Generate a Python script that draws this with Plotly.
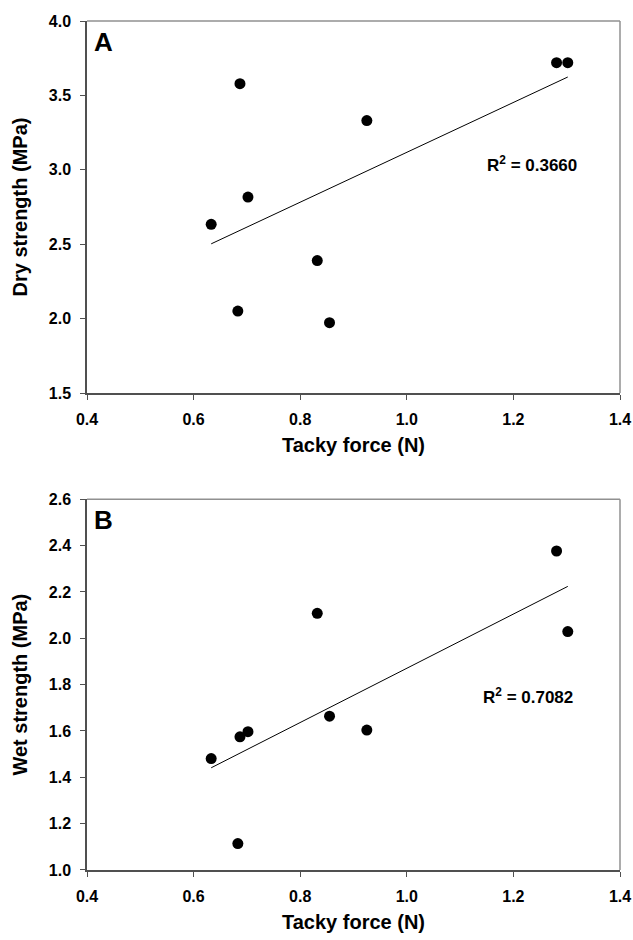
import numpy as np
import plotly.graph_objects as go
from plotly.subplots import make_subplots

# Data
tacky_force = [0.633, 0.683, 0.687, 0.702, 0.832, 0.855, 0.925, 1.281, 1.302]
dry_strength = [2.634, 2.051, 3.579, 2.817, 2.390, 1.973, 3.331, 3.720, 3.720]
wet_strength = [1.481, 1.114, 1.575, 1.597, 2.108, 1.664, 1.604, 2.377, 2.029]
r2_labels = ["R<sup>2</sup> = 0.3660", "R<sup>2</sup> = 0.7082"]
panel_labels = ["A", "B"]
x_ticks = [0.4, 0.6, 0.8, 1.0, 1.2, 1.4]
dry_ticks = [1.5, 2.0, 2.5, 3.0, 3.5, 4.0]
wet_ticks = [1.0, 1.2, 1.4, 1.6, 1.8, 2.0, 2.2, 2.4, 2.6]

FONT = "Liberation Sans, Arial, sans-serif"

fig = make_subplots(rows=2, cols=1, vertical_spacing=0.12)

x = np.array(tacky_force)
for row, yvals in [(1, dry_strength), (2, wet_strength)]:
    y = np.array(yvals)
    fig.add_trace(go.Scatter(x=x, y=y, mode="markers",
                             marker=dict(color="black", size=11),
                             showlegend=False), row=row, col=1)
    slope, icpt = np.polyfit(x, y, 1)
    xl = np.array([x.min(), x.max()])
    fig.add_trace(go.Scatter(x=xl, y=slope * xl + icpt, mode="lines",
                             line=dict(color="black", width=1),
                             showlegend=False), row=row, col=1)

axis_common = dict(showline=True, linecolor="#505050", linewidth=1.5,
                   ticks="outside", ticklen=5, tickcolor="#505050", tickwidth=1,
                   showgrid=False, zeroline=False, ticklabeloverflow="allow",
                   tickfont=dict(family=FONT, size=16, color="black", weight="bold"))

for row in (1, 2):
    fig.update_xaxes(range=[0.4, 1.4], tickvals=x_ticks,
                     ticktext=[f"{v:.1f}" for v in x_ticks],
                     ticklabelstandoff=6,
                     title=dict(text="Tacky force (N)", standoff=11,
                                font=dict(family=FONT, size=20, color="black", weight="bold")),
                     row=row, col=1, **axis_common)

fig.update_yaxes(range=[1.5, 4.0], tickvals=dry_ticks,
                 ticktext=[f"{v:.1f}" for v in dry_ticks],
                 ticklabelstandoff=6,
                 title=dict(text="Dry strength (MPa)", standoff=16,
                            font=dict(family=FONT, size=20, color="black", weight="bold")),
                 row=1, col=1, **axis_common)
fig.update_yaxes(range=[1.0, 2.6], tickvals=wet_ticks,
                 ticktext=[f"{v:.1f}" for v in wet_ticks],
                 ticklabelstandoff=6,
                 title=dict(text="Wet strength (MPa)", standoff=16,
                            font=dict(family=FONT, size=20, color="black", weight="bold")),
                 row=2, col=1, **axis_common)

fig.update_layout(
    xaxis=dict(domain=[0, 1]), xaxis2=dict(domain=[0, 1]),
    yaxis=dict(domain=[0.5618, 1.0]),
    yaxis2=dict(domain=[0.0, 0.4366]),
)

# Frame lines (top and right) in lighter gray
for xr, yr in [("x domain", "y domain"), ("x2 domain", "y2 domain")]:
    fig.add_shape(type="line", xref=xr, yref=yr, x0=0, x1=1, y0=1, y1=1,
                  line=dict(color="#909090", width=1.5))
    fig.add_shape(type="line", xref=xr, yref=yr, x0=1, x1=1, y0=0, y1=1,
                  line=dict(color="#909090", width=1.5))

# Panel labels
for i, (xr, yr) in enumerate([("x domain", "y domain"), ("x2 domain", "y2 domain")]):
    fig.add_annotation(xref=xr, yref=yr, x=0.01, y=0.99, xanchor="left", yanchor="top",
                       text=panel_labels[i], showarrow=False,
                       font=dict(family=FONT, size=26, color="black", weight="bold"))

# R² annotations
fig.add_annotation(xref="x", yref="y", x=1.2355, y=3.037, text=r2_labels[0],
                   showarrow=False, font=dict(family=FONT, size=17, color="black", weight="bold"))
fig.add_annotation(xref="x2", yref="y2", x=1.227, y=1.753, text=r2_labels[1],
                   showarrow=False, font=dict(family=FONT, size=17, color="black", weight="bold"))

fig.update_layout(width=633, height=940, plot_bgcolor="white", paper_bgcolor="white",
                  margin=dict(l=87, r=13, t=21, b=70, autoexpand=False),
                  font=dict(family=FONT, color="black"))

fig.write_html("out.html", config={"displayModeBar": False},
               post_script="document.body.style.margin='0px';document.body.style.overflow='hidden';")
